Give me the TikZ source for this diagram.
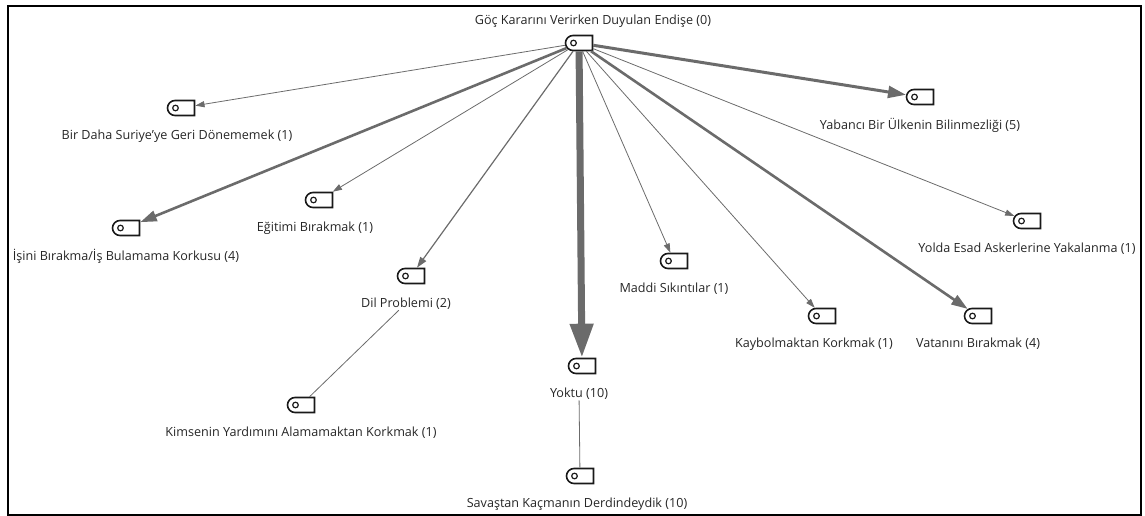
\documentclass[tikz,border=0pt]{standalone}
\usepackage{fontspec}
\setmainfont{Open Sans}
\usetikzlibrary{positioning,shapes.misc,arrows.meta}

\begin{document}
\begin{tikzpicture}
    [x=1pt,y=-1pt,
    tag/.style={rounded rectangle,rounded rectangle right arc=none,draw=black!90,line width=1.6pt,fill=white,
        minimum width=27pt,minimum height=15pt,inner sep=0pt,
        path picture={\draw[line width=1.2pt] ([xshift=8pt]path picture bounding box.west) circle (2.8pt);}},
    caption/.style={font=\fontsize{12.6}{14}\selectfont,text=black!85,inner sep=1pt},
    link/.style={draw=black!58,line width=#1,-{Triangle[length=6pt 4,width=4pt 2.6]}},
    plain/.style={draw=black!58,line width=0.8pt}]

    \useasboundingbox (0,0) rectangle (1145,516);
    \draw[line width=2pt] (8,6) rectangle (1141,515);

    \node[tag] (Root) at (579,43) {};
    \node[caption] (RootLbl) [above=6pt of Root,xshift=14pt] {Göç Kararını Verirken Duyulan Endişe (0)};

    \node[tag] (BirDaha) at (181,108) {};
    \node[caption] (BirDahaLbl) [below=12pt of BirDaha,xshift=-4pt] {Bir Daha Suriye'ye Geri Dönememek (1)};
    \node[tag] (Yabanci) at (920,97) {};
    \node[caption] (YabanciLbl) [below=12pt of Yabanci] {Yabancı Bir Ülkenin Bilinmezliği (5)};
    \node[tag] (Isini) at (126,228) {};
    \node[caption] (IsiniLbl) [below=12pt of Isini] {İşini Bırakma/İş Bulamama Korkusu (4)};
    \node[tag] (Egitimi) at (319,200) {};
    \node[caption] (EgitimiLbl) [below=12pt of Egitimi,xshift=-4pt] {Eğitimi Bırakmak (1)};
    \node[tag] (Yolda) at (1027,221) {};
    \node[caption] (YoldaLbl) [below=12pt of Yolda] {Yolda Esad Askerlerine Yakalanma (1)};
    \node[tag] (Dil) at (411,276) {};
    \node[caption] (DilLbl) [below=12pt of Dil,xshift=-5pt] {Dil Problemi (2)};
    \node[tag] (Maddi) at (674,261) {};
    \node[caption] (MaddiLbl) [below=12pt of Maddi] {Maddi Sıkıntılar (1)};
    \node[tag] (Kaybolmak) at (822,316) {};
    \node[caption] (KaybolmakLbl) [below=12pt of Kaybolmak,xshift=-8pt] {Kaybolmaktan Korkmak (1)};
    \node[tag] (Vatanini) at (978,316) {};
    \node[caption] (VataniniLbl) [below=12pt of Vatanini] {Vatanını Bırakmak (4)};
    \node[tag] (Yoktu) at (582,366) {};
    \node[caption] (YoktuLbl) [below=12pt of Yoktu,xshift=-3pt] {Yoktu (10)};
    \node[tag] (Kimsenin) at (301,405) {};
    \node[caption] (KimseninLbl) [below=12pt of Kimsenin] {Kimsenin Yardımını Alamamaktan Korkmak (1)};
    \node[tag] (Savastan) at (580,476) {};
    \node[caption] (SavastanLbl) [below=12pt of Savastan,xshift=-3pt] {Savaştan Kaçmanın Derdindeydik (10)};

    % links from the root
    \draw[link=0.8pt] (Root) -- (BirDaha);
    \draw[link=2.6pt] (Root) -- (Isini);
    \draw[link=0.8pt] (Root) -- (Egitimi);
    \draw[link=1.2pt] (Root) -- (Dil);
    \draw[link=7pt] (Root) -- (Yoktu);
    \draw[link=0.8pt] (Root) -- (Maddi);
    \draw[link=0.8pt] (Root) -- (Kaybolmak);
    \draw[link=2.6pt] (Root) -- (Vatanini);
    \draw[link=0.8pt] (Root) -- (Yolda);
    \draw[link=3pt] (Root) -- (Yabanci);

    % plain lines
    \draw[plain] (DilLbl) -- (Kimsenin);
    \draw[plain] (YoktuLbl) -- (Savastan);
\end{tikzpicture}
\end{document}
